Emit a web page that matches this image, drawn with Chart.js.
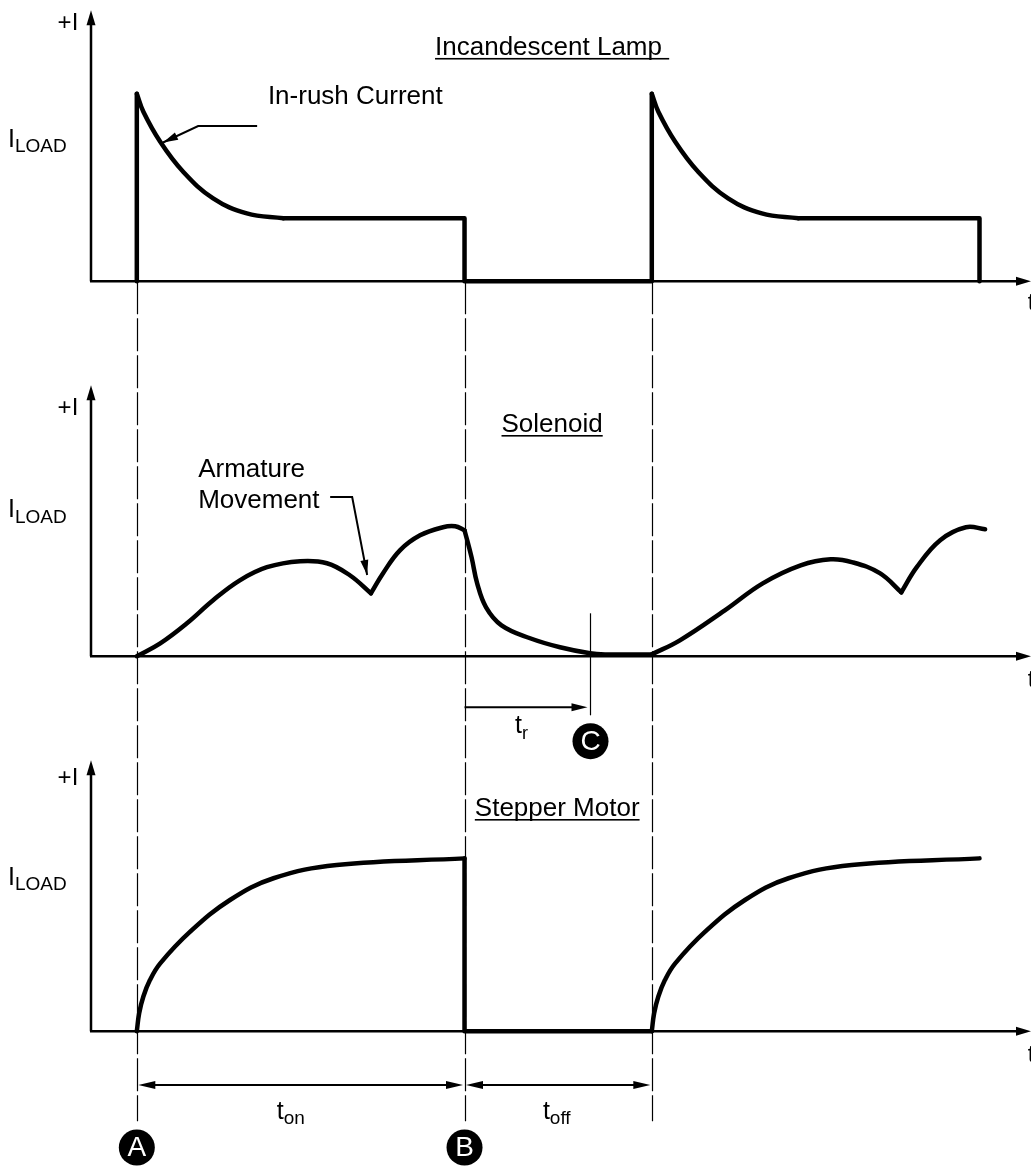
<!DOCTYPE html>
<html>
<head>
<meta charset="utf-8">
<script src="https://cdn.jsdelivr.net/npm/chart.js@4.4.1/dist/chart.umd.min.js"></script>
<style>
  html, body { margin: 0; padding: 0; background: #fff; }
  canvas { display: block; }
</style>
</head>
<body>
<canvas id="loadChart" width="1031" height="1169"></canvas>
<script>
// time in units (t_on = 7, t_off = 4), current in arbitrary units
// each trace is split where it has a sharp corner
var lampRise1   = [[0, 0], [0, 10]];
var lampDecay1  = [[0, 10], [0.14, 9.04], [0.5, 7.44], [0.99, 5.84], [1.63, 4.42], [2.35, 3.62], [3.13, 3.36]];
var lampHold1   = [[3.13, 3.36], [7, 3.36], [7, 0], [11, 0], [11, 10]];
var lampDecay2  = [[11, 10], [11.14, 9.04], [11.5, 7.44], [11.99, 5.84], [12.63, 4.42], [13.35, 3.62], [14.13, 3.36]];
var lampHold2   = [[14.13, 3.36], [18, 3.36], [18, 0]];

var solHump1 = [[0, 0], [0.5, 0.69], [1.07, 1.76], [1.63, 2.99], [2.2, 4.05], [2.78, 4.75], [3.49, 5.07], [4.06, 4.96], [4.55, 4.32], [5.0, 3.36]];
var solRise1 = [[5.0, 3.36], [5.26, 4.43], [5.62, 5.65], [6.05, 6.45], [6.54, 6.88], [6.8, 6.93], [7.0, 6.72]];
var solFall  = [[7.0, 6.72], [7.15, 5.28], [7.27, 3.89], [7.46, 2.61], [7.79, 1.65], [8.4, 0.96], [9.04, 0.48], [9.68, 0.16], [10.0, 0.1], [11.0, 0.1]];
var solHump2 = [[11, 0.1], [11.6, 0.85], [12.56, 2.45], [13.37, 3.89], [14.18, 4.85], [14.82, 5.17], [15.29, 5.01], [15.87, 4.43], [16.33, 3.41]];
var solRise2 = [[16.33, 3.41], [16.66, 4.75], [17.16, 6.19], [17.71, 6.88], [18.12, 6.77]];

var stepRise1 = [[0, 0], [0.05, 0.96], [0.14, 1.85], [0.28, 2.73], [0.5, 3.62], [1.14, 5.31], [1.99, 7.0], [2.92, 8.16], [4.27, 8.87], [7.0, 9.22]];
var stepOff   = [[7, 9.22], [7, 0], [11, 0]];
var stepRise2 = [[11, 0], [11.05, 0.96], [11.14, 1.85], [11.28, 2.73], [11.5, 3.62], [12.14, 5.31], [12.99, 7.0], [13.92, 8.16], [15.27, 8.87], [18.0, 9.22]];

// switching instants: A (turn on), B (turn off), end of t_off
var edgeTimes = [0, 7, 11];
var releaseTime = 9.68; // C

var FONT = '"Liberation Sans", Arial, Helvetica, sans-serif';

function trace(arr, axis, curved) {
    return {
        data: arr.map(p => ({x: p[0], y: p[1]})),
        yAxisID: axis,
        borderColor: '#000',
        borderWidth: 4.5,
        borderCapStyle: 'round',
        borderJoinStyle: 'round',
        pointRadius: 0,
        fill: false,
        tension: curved ? 0.4 : 0
    };
}

function arrowHead(ctx, x1, y1, x2, y2, len, half) {
    var a = Math.atan2(y2 - y1, x2 - x1);
    var c = Math.cos(a), s = Math.sin(a);
    ctx.beginPath();
    ctx.moveTo(x2, y2);
    ctx.lineTo(x2 - len * c + half * s, y2 - len * s - half * c);
    ctx.lineTo(x2 - len * c - half * s, y2 - len * s + half * c);
    ctx.closePath();
    ctx.fill();
}

function subText(ctx, main, sub, x, y, size, subSize, drop) {
    ctx.textAlign = 'left';
    ctx.font = size + 'px ' + FONT;
    ctx.fillText(main, x, y);
    var w = ctx.measureText(main).width;
    ctx.font = subSize + 'px ' + FONT;
    ctx.fillText(sub, x + w, y + drop);
}

function underlined(ctx, text, x, y) {
    ctx.font = '26px ' + FONT;
    ctx.textAlign = 'left';
    ctx.fillText(text, x, y);
    var w = ctx.measureText(text).width;
    ctx.fillRect(x, y + 3, w, 1.6);
}

function circled(ctx, letter, x, y) {
    ctx.fillStyle = '#000';
    ctx.beginPath();
    ctx.arc(x, y, 18, 0, Math.PI * 2);
    ctx.fill();
    ctx.fillStyle = '#fff';
    ctx.font = '28px ' + FONT;
    ctx.textAlign = 'center';
    ctx.textBaseline = 'middle';
    ctx.fillText(letter, x, y + 1);
    ctx.textBaseline = 'alphabetic';
    ctx.fillStyle = '#000';
}

var panels = [
    {id: 'yLamp', plus: 13.4, iMain: 7.17, iSub: 6.91, tLab: -1.55},
    {id: 'ySol', plus: 12.87, iMain: 7.44, iSub: 7.12, tLab: -1.64},
    {id: 'yStep', plus: 13.13, iMain: 7.8, iSub: 7.53, tLab: -1.64}
];

var diagramPlugin = {
    id: 'diagram',
    beforeDatasetsDraw(chart) {
        var ctx = chart.ctx, x = chart.scales.x;
        ctx.save();
        ctx.fillStyle = '#000';
        ctx.strokeStyle = '#000';
        var x0 = x.getPixelForValue(-1);
        var xEnd = x.getPixelForValue(19.1);
        panels.forEach(function (p) {
            var y = chart.scales[p.id];
            var base = y.getPixelForValue(0);
            var top = y.getPixelForValue(14.45);
            ctx.lineWidth = 2.5;
            ctx.beginPath();
            ctx.moveTo(x0 + 1, base);
            ctx.lineTo(x0 + 1, top + 12);
            ctx.moveTo(x0, base);
            ctx.lineTo(xEnd - 12, base);
            ctx.stroke();
            arrowHead(ctx, x0 + 1, base, x0 + 1, top, 15, 4.5);
            arrowHead(ctx, x0, base, xEnd, base, 15, 4.5);
        });
        // dashed switching lines through all three panels
        ctx.lineWidth = 1.2;
        ctx.setLineDash([33, 4]);
        var yTop = chart.scales.yLamp.getPixelForValue(0);
        var yBot = chart.scales.yStep.getPixelForValue(-4.8);
        edgeTimes.forEach(function (t) {
            var px = Math.round(x.getPixelForValue(t)) + 0.5;
            ctx.beginPath();
            ctx.moveTo(px, yTop);
            ctx.lineTo(px, yBot);
            ctx.stroke();
        });
        ctx.setLineDash([]);
        ctx.restore();
    },
    afterDatasetsDraw(chart) {
        var ctx = chart.ctx, x = chart.scales.x;
        var yL = chart.scales.yLamp, yS = chart.scales.ySol, yM = chart.scales.yStep;
        ctx.save();
        ctx.fillStyle = '#000';
        ctx.strokeStyle = '#000';
        ctx.textBaseline = 'alphabetic';

        panels.forEach(function (p) {
            var y = chart.scales[p.id];
            ctx.font = '24px ' + FONT;
            ctx.textAlign = 'right';
            ctx.fillText('+I', x.getPixelForValue(-1.25), y.getPixelForValue(p.plus));
            ctx.textAlign = 'left';
            ctx.font = '25px ' + FONT;
            var ix = x.getPixelForValue(-2.75);
            ctx.fillText('I', ix, y.getPixelForValue(p.iMain));
            var iw = ctx.measureText('I').width;
            ctx.font = '19px ' + FONT;
            ctx.fillText('LOAD', ix + iw, y.getPixelForValue(p.iSub));
            ctx.font = '24px ' + FONT;
            ctx.fillText('t', x.getPixelForValue(19.03), y.getPixelForValue(p.tLab));
        });

        // titles
        underlined(ctx, 'Incandescent Lamp ', x.getPixelForValue(6.37), yL.getPixelForValue(12.07));
        underlined(ctx, 'Solenoid', x.getPixelForValue(7.79), yS.getPixelForValue(11.96));
        underlined(ctx, 'Stepper Motor', x.getPixelForValue(7.22), yM.getPixelForValue(11.48));

        // in-rush callout
        ctx.font = '26px ' + FONT;
        ctx.textAlign = 'left';
        ctx.fillText('In-rush Current', x.getPixelForValue(2.8), yL.getPixelForValue(9.45));
        ctx.lineWidth = 2;
        var a1 = [x.getPixelForValue(2.57), yL.getPixelForValue(8.28)];
        var a2 = [x.getPixelForValue(1.31), yL.getPixelForValue(8.28)];
        var a3 = [x.getPixelForValue(0.56), yL.getPixelForValue(7.4)];
        ctx.beginPath();
        ctx.moveTo(a1[0], a1[1]);
        ctx.lineTo(a2[0], a2[1]);
        ctx.lineTo(a3[0], a3[1]);
        ctx.stroke();
        arrowHead(ctx, a2[0], a2[1], a3[0], a3[1], 15, 4);

        // armature callout
        ctx.fillText('Armature', x.getPixelForValue(1.31), yS.getPixelForValue(9.55));
        ctx.fillText('Movement', x.getPixelForValue(1.31), yS.getPixelForValue(7.93));
        var b1 = [x.getPixelForValue(4.13), yS.getPixelForValue(8.49)];
        var b2 = [x.getPixelForValue(4.6), yS.getPixelForValue(8.49)];
        var b3 = [x.getPixelForValue(4.92), yS.getPixelForValue(4.33)];
        ctx.beginPath();
        ctx.moveTo(b1[0], b1[1]);
        ctx.lineTo(b2[0], b2[1]);
        ctx.lineTo(b3[0], b3[1]);
        ctx.stroke();
        arrowHead(ctx, b2[0], b2[1], b3[0], b3[1], 15, 4);

        // release time t_r and marker C
        var cx = Math.round(x.getPixelForValue(releaseTime)) + 0.5;
        ctx.lineWidth = 1.2;
        ctx.beginPath();
        ctx.moveTo(cx, yS.getPixelForValue(2.29));
        ctx.lineTo(cx, yS.getPixelForValue(-3.15));
        ctx.stroke();
        var ry = yS.getPixelForValue(-2.72);
        ctx.lineWidth = 2;
        ctx.beginPath();
        ctx.moveTo(x.getPixelForValue(7), ry);
        ctx.lineTo(cx - 12, ry);
        ctx.stroke();
        arrowHead(ctx, x.getPixelForValue(7), ry, cx - 3, ry, 16, 4);
        subText(ctx, 't', 'r', x.getPixelForValue(8.08), yS.getPixelForValue(-4.1), 25, 18, 6);
        circled(ctx, 'C', cx, yS.getPixelForValue(-4.53));

        // t_on / t_off dimension arrows
        var dy = yM.getPixelForValue(-2.87);
        ctx.lineWidth = 2;
        [[0, 7], [7, 11]].forEach(function (seg) {
            var p1 = x.getPixelForValue(seg[0]) + 1.5, p2 = x.getPixelForValue(seg[1]) - 1.5;
            ctx.beginPath();
            ctx.moveTo(p1 + 10, dy);
            ctx.lineTo(p2 - 10, dy);
            ctx.stroke();
            arrowHead(ctx, p2, dy, p1, dy, 17, 4);
            arrowHead(ctx, p1, dy, p2, dy, 17, 4);
        });
        ctx.fillStyle = '#000';
        var tw;
        ctx.font = '25px ' + FONT;
        tw = ctx.measureText('t').width;
        ctx.font = '19px ' + FONT;
        tw += ctx.measureText('on').width;
        subText(ctx, 't', 'on', x.getPixelForValue(3.29) - tw / 2, yM.getPixelForValue(-4.67), 25, 19, 5);
        ctx.font = '25px ' + FONT;
        tw = ctx.measureText('t').width;
        ctx.font = '19px ' + FONT;
        tw += ctx.measureText('off').width;
        subText(ctx, 't', 'off', x.getPixelForValue(8.97) - tw / 2, yM.getPixelForValue(-4.67), 25, 19, 5);

        circled(ctx, 'A', x.getPixelForValue(0), yM.getPixelForValue(-6.2));
        circled(ctx, 'B', x.getPixelForValue(7), yM.getPixelForValue(-6.2));
        ctx.restore();
    }
};

var bandAxis = function (w) {
    return {type: 'linear', min: -5, max: 15, display: false, stack: 'panels', stackWeight: 1, weight: w};
};

var ctx = document.getElementById('loadChart').getContext('2d');
var loadChart = new Chart(ctx, {
    type: 'line',
    data: {
        datasets: [
            trace(lampRise1, 'yLamp', false),
            trace(lampDecay1, 'yLamp', true),
            trace(lampHold1, 'yLamp', false),
            trace(lampDecay2, 'yLamp', true),
            trace(lampHold2, 'yLamp', false),
            trace(solHump1, 'ySol', true),
            trace(solRise1, 'ySol', true),
            trace(solFall, 'ySol', true),
            trace(solHump2, 'ySol', true),
            trace(solRise2, 'ySol', true),
            trace(stepRise1, 'yStep', true),
            trace(stepOff, 'yStep', false),
            trace(stepRise2, 'yStep', true)
        ]
    },
    options: {
        responsive: false,
        animation: false,
        events: [],
        layout: {padding: {left: 90, right: 0, top: 0, bottom: 44}},
        plugins: {legend: {display: false}, tooltip: {enabled: false}},
        scales: {
            x: {type: 'linear', min: -1, max: 19.1, display: false},
            yLamp: bandAxis(3),
            ySol: bandAxis(2),
            yStep: bandAxis(1)
        }
    },
    plugins: [diagramPlugin]
});
</script>
</body>
</html>
